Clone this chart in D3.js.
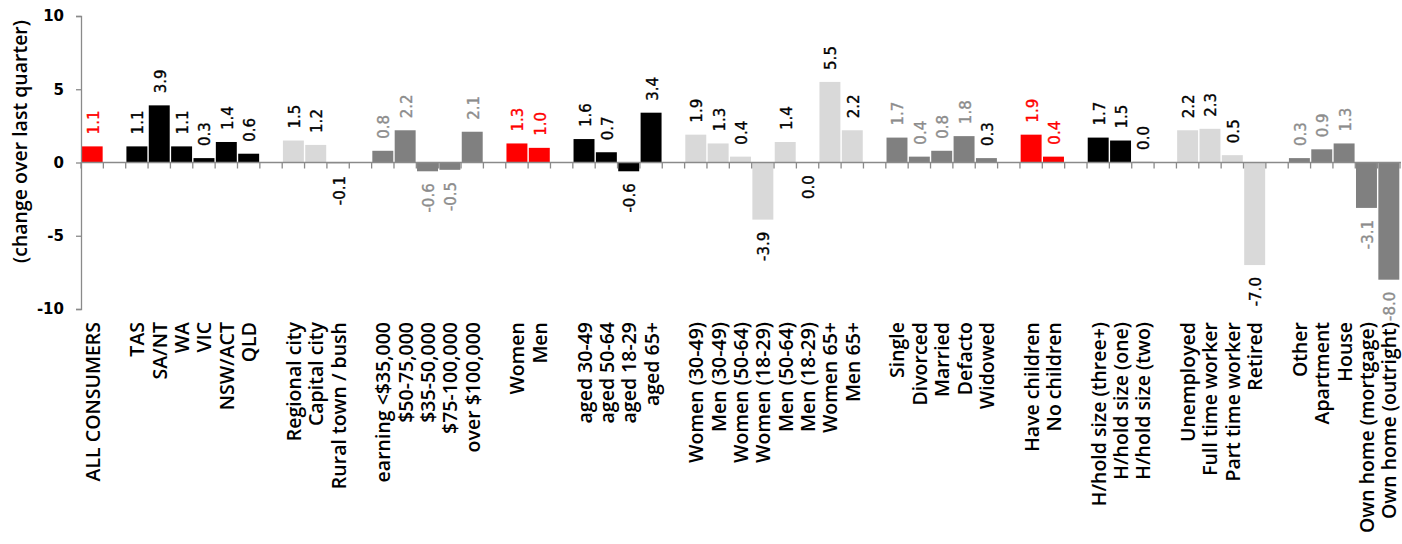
<!DOCTYPE html>
<html>
<head>
<meta charset="utf-8">
<script src="https://cdn.jsdelivr.net/npm/d3@7"></script>
<style>
  html, body { margin: 0; padding: 0; background: #fff; }
  svg { display: block; }
</style>
</head>
<body>
<svg id="chart" width="1402" height="544"></svg>
<script>
// Categories in plotting order; empty strings are spacer slots between groups.
const categories = [
  "ALL CONSUMERS", "",
  "TAS", "SA/NT", "WA", "VIC", "NSW/ACT", "QLD", "",
  "Regional city", "Capital city", "Rural town / bush", "",
  "earning <$35,000", "$50-75,000", "$35-50,000", "$75-100,000", "over $100,000", "",
  "Women", "Men", "",
  "aged 30-49", "aged 50-64", "aged 18-29", "aged 65+", "",
  "Women (30-49)", "Men (30-49)", "Women (50-64)", "Women (18-29)", "Men (50-64)", "Men (18-29)", "Women 65+", "Men 65+", "",
  "Single", "Divorced", "Married", "Defacto", "Widowed", "",
  "Have children", "No children", "",
  "H/hold size (three+)", "H/hold size (one)", "H/hold size (two)", "",
  "Unemployed", "Full time worker", "Part time worker", "Retired", "",
  "Other", "Apartment", "House", "Own home (mortgage)", "Own home (outright)"
];

// Change over last quarter (null = spacer)
const values = [
  1.1, null,
  1.1, 3.9, 1.1, 0.3, 1.4, 0.6, null,
  1.5, 1.2, -0.1, null,
  0.8, 2.2, -0.6, -0.5, 2.1, null,
  1.3, 1.0, null,
  1.6, 0.7, -0.6, 3.4, null,
  1.9, 1.3, 0.4, -3.9, 1.4, -0.04, 5.5, 2.2, null,
  1.7, 0.4, 0.8, 1.8, 0.3, null,
  1.9, 0.4, null,
  1.7, 1.5, 0.04, null,
  2.2, 2.3, 0.5, -7.0, null,
  0.3, 0.9, 1.3, -3.1, -8.0
];

// Segment each category belongs to
const groups = [
  "total", null,
  "state", "state", "state", "state", "state", "state", null,
  "location", "location", "location", null,
  "income", "income", "income", "income", "income", null,
  "gender", "gender", null,
  "age", "age", "age", "age", null,
  "genderAge", "genderAge", "genderAge", "genderAge", "genderAge", "genderAge", "genderAge", "genderAge", null,
  "marital", "marital", "marital", "marital", "marital", null,
  "children", "children", null,
  "household", "household", "household", null,
  "work", "work", "work", "work", null,
  "housing", "housing", "housing", "housing", "housing"
];

const yTicks = [-10, -5, 0, 5, 10];

// Styling per segment
const RED = "#ff0000", BLACK = "#000000", GREY = "#808080", LIGHT = "#d9d9d9";
const barFill = {
  total: RED, state: BLACK, location: LIGHT, income: GREY, gender: RED,
  age: BLACK, genderAge: LIGHT, marital: GREY, children: RED,
  household: BLACK, work: LIGHT, housing: GREY
};
const labelFill = {
  total: RED, state: BLACK, location: BLACK, income: "#8c8c8c", gender: RED,
  age: BLACK, genderAge: BLACK, marital: "#8c8c8c", children: RED,
  household: BLACK, work: BLACK, housing: "#8c8c8c"
};
const labelOverride = { "Widowed": BLACK };

const svg = d3.select("#chart");
const plotLeft = 81, plotRight = 1400, plotTop = 16, plotBottom = 309;

const x = d3.scaleBand().domain(d3.range(categories.length)).range([plotLeft, plotRight]).padding(0);
const y = d3.scaleLinear().domain([-10, 10]).range([plotBottom, plotTop]);
const bw = x.bandwidth();
const axisColor = "#8a8a8a";

const fmt = v => (Math.abs(v) < 0.05 ? "0.0" : d3.format(".1f")(v).replace("\u2212", "-"));

const rows = categories.map((c, i) => ({ i, c, v: values[i], g: groups[i] }));
const data = rows.filter(d => d.v !== null);

// Bars
svg.append("g").selectAll("rect").data(data).join("rect")
  .attr("x", d => x(d.i) + 0.7)
  .attr("width", bw - 1.4)
  .attr("y", d => y(Math.max(0, d.v)))
  .attr("height", d => Math.abs(y(d.v) - y(0)))
  .attr("fill", d => barFill[d.g]);

// Y axis
const yAxis = svg.append("g").attr("transform", `translate(${plotLeft},0)`)
  .call(d3.axisLeft(y).tickValues(yTicks).tickSize(5).tickPadding(12));
yAxis.select(".domain").attr("stroke", axisColor).attr("stroke-width", 1.3);
yAxis.selectAll(".tick line").attr("stroke", axisColor).attr("stroke-width", 1.3);
yAxis.selectAll(".tick text")
  .attr("fill", "#000")
  .style("font-family", "'DejaVu Sans', sans-serif")
  .style("font-size", "15px")
  .style("font-weight", "bold")
  .text(d => (d < 0 ? "-" + Math.abs(d) : String(d)));

// Zero line with ticks at band boundaries
const zeroY = y(0);
svg.append("line")
  .attr("x1", plotLeft).attr("x2", plotRight + 1)
  .attr("y1", zeroY).attr("y2", zeroY)
  .attr("stroke", axisColor).attr("stroke-width", 1.5);
svg.append("g").selectAll("line").data(d3.range(categories.length + 1)).join("line")
  .attr("x1", i => plotLeft + i * bw).attr("x2", i => plotLeft + i * bw)
  .attr("y1", zeroY).attr("y2", zeroY + 6)
  .attr("stroke", axisColor).attr("stroke-width", 1.3);

// Value labels
svg.append("g").selectAll("text").data(data).join("text")
  .attr("transform", d => {
    const cx = x(d.i) + bw / 2 + 1.5;
    const yy = d.v < 0 ? y(d.v) + 12 : y(d.v) - 12;
    return `translate(${cx},${yy}) rotate(-90)`;
  })
  .attr("text-anchor", d => (d.v < 0 ? "end" : "start"))
  .attr("dominant-baseline", "central")
  .style("font-family", "'DejaVu Sans', sans-serif")
  .style("font-size", "15px")
  .attr("fill", d => labelOverride[d.c] || labelFill[d.g])
  .attr("stroke", d => labelOverride[d.c] || labelFill[d.g])
  .attr("stroke-width", 0.35)
  .text(d => fmt(d.v));

// Category labels
svg.append("g").selectAll("text").data(rows.filter(d => d.c)).join("text")
  .attr("transform", d => `translate(${x(d.i) + bw / 2},322) rotate(-90)`)
  .attr("text-anchor", "end")
  .attr("dominant-baseline", "central")
  .style("font-family", "'Open Sans', sans-serif")
  .style("font-size", "19.5px")
  .style("font-weight", "600")
  .attr("fill", "#000")
  .text(d => d.c);

// Y axis title
svg.append("text")
  .attr("transform", `translate(19,${(plotTop + 267) / 2}) rotate(-90)`)
  .attr("text-anchor", "middle")
  .attr("dominant-baseline", "central")
  .style("font-family", "'Open Sans', sans-serif")
  .style("font-size", "19.5px")
  .style("font-weight", "600")
  .attr("fill", "#000")
  .text("(change over last quarter)");
</script>
</body>
</html>
